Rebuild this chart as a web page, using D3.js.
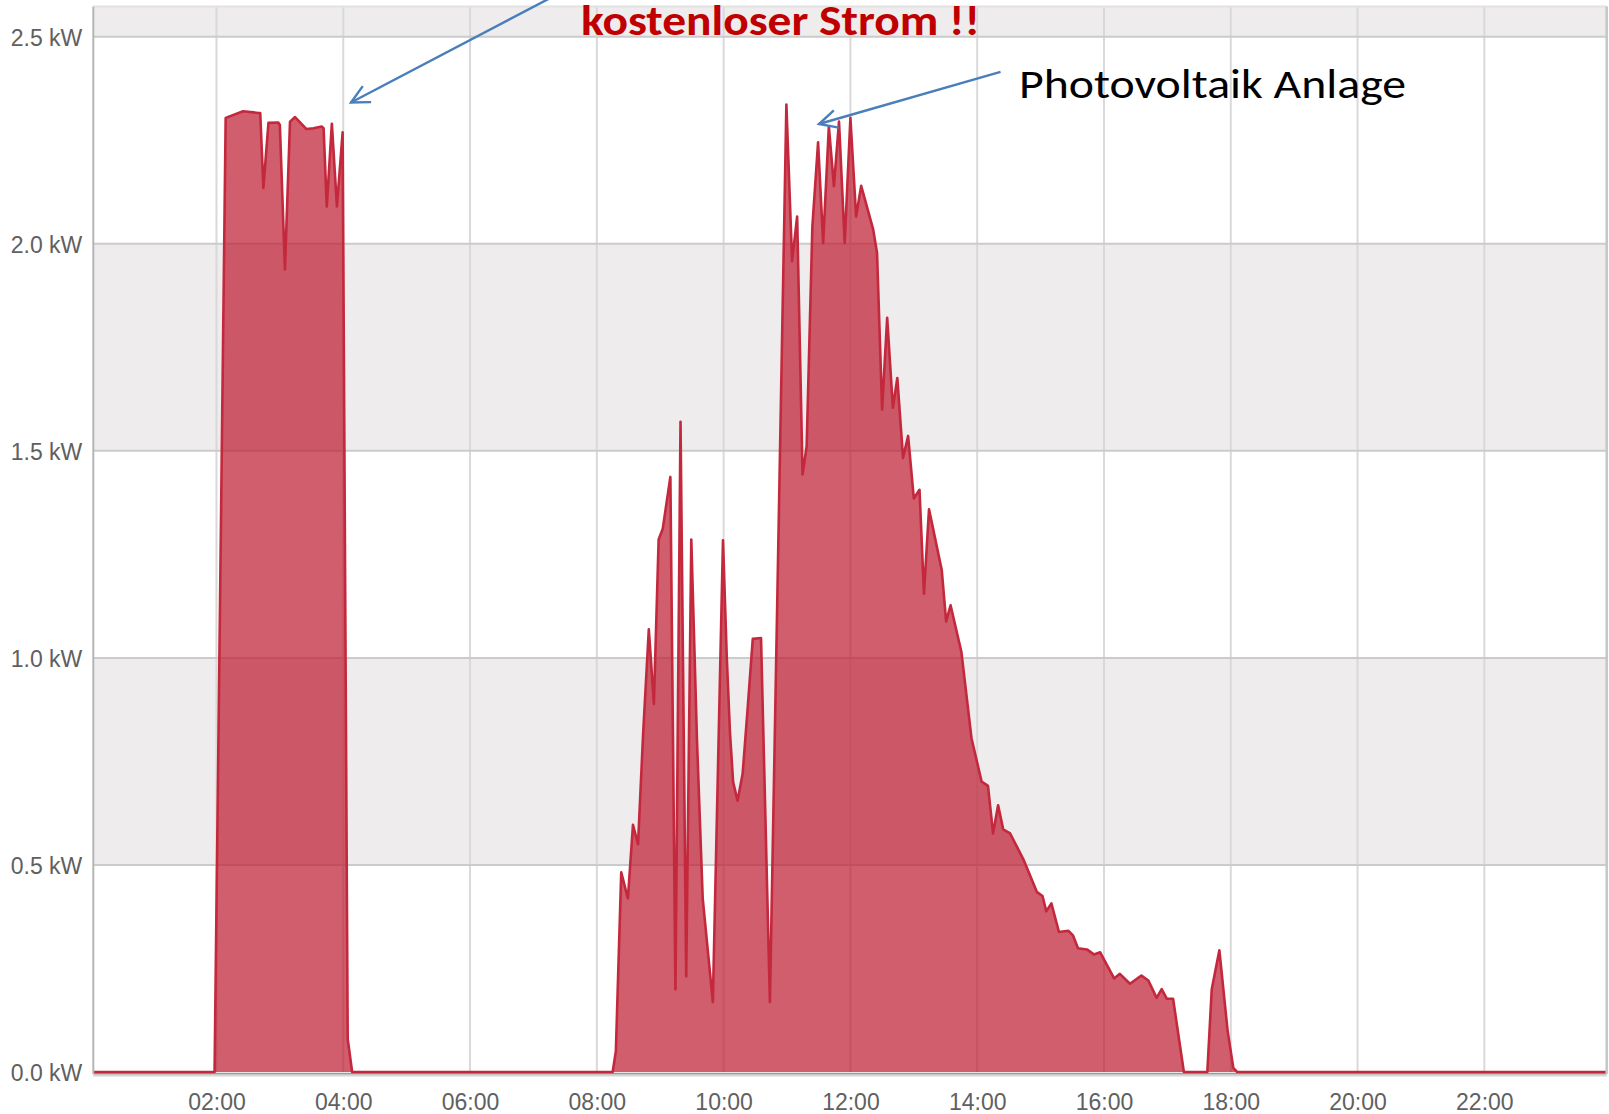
<!DOCTYPE html>
<html><head><meta charset="utf-8">
<script src="https://cdn.jsdelivr.net/npm/d3@7"></script>
<style>html,body{margin:0;padding:0;background:#fff;overflow:hidden}</style>
</head><body>
<svg id="chart" width="1609" height="1114"></svg>
<script>
// ---- data (time in hours of day, power in kW) ----
const timesH = [
  0.057, 1.97, 2.145, 2.42, 2.66, 2.69, 2.74, 2.82, 2.975, 3.00, 3.08, 3.16, 3.24, 3.42, 3.53, 3.66, 3.69, 3.74, 3.82, 3.90, 3.99, 4.07, 4.14,
  8.25, 8.30, 8.385, 8.49, 8.57, 8.65, 8.73, 8.82, 8.90, 8.975, 9.04, 9.16, 9.24, 9.32, 9.41, 9.49, 9.58, 9.67, 9.83, 9.99, 10.05, 10.10, 10.15, 10.22, 10.30, 10.38, 10.46, 10.59, 10.73,
  10.99, 11.08, 11.16, 11.245, 11.31, 11.40, 11.49, 11.57, 11.66, 11.74, 11.82, 11.91, 12.00, 12.09, 12.17, 12.36, 12.42, 12.50, 12.58, 12.67, 12.74, 12.83, 12.91,
  13.00, 13.09, 13.16, 13.24, 13.44, 13.51, 13.58, 13.75, 13.91, 14.07, 14.17, 14.25, 14.33, 14.41, 14.52, 14.73, 14.94, 15.03, 15.09, 15.17, 15.29, 15.44, 15.51,
  15.59, 15.73, 15.84, 15.94, 16.16, 16.25, 16.41, 16.59, 16.70, 16.83, 16.91, 16.99, 17.09, 17.26,
  17.63, 17.70, 17.82, 17.95, 18.04, 18.10, 23.93
];
const powerKW = [
  0, 0, 2.304, 2.320, 2.316, 2.316, 2.135, 2.292, 2.293, 2.287, 1.938, 2.295, 2.306, 2.277, 2.279, 2.283, 2.279, 2.090, 2.290, 2.090, 2.269, 0.08, 0,
  0, 0.05, 0.482, 0.419, 0.597, 0.550, 0.816, 1.069, 0.889, 1.286, 1.312, 1.437, 0.200, 1.570, 0.231, 1.286, 0.800, 0.419, 0.169, 1.284, 1.000, 0.820, 0.700, 0.655, 0.720, 0.880, 1.046, 1.048, 0.169,
  2.336, 1.958, 2.066, 1.443, 1.511, 2.042, 2.245, 2.002, 2.283, 2.139, 2.295, 2.002, 2.304, 2.066, 2.140, 2.034, 1.978, 1.600, 1.821, 1.604, 1.676, 1.483, 1.536,
  1.385, 1.406, 1.155, 1.359, 1.213, 1.088, 1.127, 1.015, 0.806, 0.701, 0.691, 0.576, 0.644, 0.586, 0.576, 0.513, 0.435, 0.425, 0.388, 0.407, 0.338, 0.341, 0.330,
  0.299, 0.296, 0.284, 0.289, 0.226, 0.237, 0.213, 0.233, 0.221, 0.179, 0.200, 0.177, 0.177, 0,
  0, 0.20, 0.294, 0.10, 0.01, 0, 0
];
const yTickValues = [0, 0.5, 1.0, 1.5, 2.0, 2.5];
const yTickLabels = ["0.0 kW", "0.5 kW", "1.0 kW", "1.5 kW", "2.0 kW", "2.5 kW"];
const xTickHours = [2, 4, 6, 8, 10, 12, 14, 16, 18, 20, 22];
const xTickLabels = ["02:00", "04:00", "06:00", "08:00", "10:00", "12:00", "14:00", "16:00", "18:00", "20:00", "22:00"];
const greyBands = [[0.5, 1.0], [1.5, 2.0], [2.5, 2.573]];
const xDomain = [0.057, 23.93];
const yDomain = [0, 2.573];
const annotationTexts = ["kostenloser Strom !!", "Photovoltaik Anlage"];

// ---- layout ----
const svg = d3.select("#chart");
const L = 93.3, R = 1606.7, T = 6.5, B = 1072;
const x = d3.scaleLinear().domain(xDomain).range([L, R]);
const y = d3.scaleLinear().domain(yDomain).range([B, T]);
const data = timesH.map((t, i) => ({t, v: powerKW[i]}));

// bands
svg.append("g").selectAll("rect").data(greyBands).join("rect")
  .attr("x", L).attr("width", R - L)
  .attr("y", d => y(d[1])).attr("height", d => y(d[0]) - y(d[1]))
  .attr("fill", "#eeeced");

// vertical grid
svg.append("g").selectAll("line").data(xTickHours).join("line")
  .attr("x1", d => x(d)).attr("x2", d => x(d)).attr("y1", T).attr("y2", B)
  .attr("stroke", "#d9d9d9").attr("stroke-width", 2);

// horizontal grid
svg.append("g").selectAll("line").data(yTickValues.slice(1)).join("line")
  .attr("x1", L).attr("x2", R).attr("y1", d => y(d)).attr("y2", d => y(d))
  .attr("stroke", "#cbcbcb").attr("stroke-width", 2);

// top border
svg.append("line").attr("x1", L).attr("x2", R).attr("y1", T).attr("y2", T)
  .attr("stroke", "#e2e2e2").attr("stroke-width", 2);

// area + line
const area = d3.area().x(d => x(d.t)).y0(y(0)).y1(d => y(d.v));
const line = d3.line().x(d => x(d.t)).y(d => y(d.v));

// axis shadow
svg.append("line").attr("x1", L).attr("x2", R).attr("y1", B + 3).attr("y2", B + 3)
  .attr("stroke", "#d6d6d6").attr("stroke-width", 3);
svg.append("line").attr("x1", L).attr("x2", R).attr("y1", B + 1.5).attr("y2", B + 1.5)
  .attr("stroke", "#9a9a9a").attr("stroke-width", 1.5);

svg.append("path").datum(data).attr("d", area)
  .attr("fill", "rgba(190,25,45,0.7)");
svg.append("path").datum(data).attr("d", line)
  .attr("fill", "none").attr("stroke", "#c4283d").attr("stroke-width", 2.6)
  .attr("stroke-linejoin", "round");

// left & right borders
svg.append("line").attr("x1", L).attr("x2", L).attr("y1", T).attr("y2", B + 2)
  .attr("stroke", "#b5b5b5").attr("stroke-width", 2);
svg.append("line").attr("x1", R).attr("x2", R).attr("y1", T).attr("y2", B + 2)
  .attr("stroke", "#c6c6c6").attr("stroke-width", 2.5);

// y axis labels
const yAxis = d3.axisLeft(y).tickValues(yTickValues)
  .tickFormat((d, i) => yTickLabels[i]).tickSize(0).tickPadding(11);
const gy = svg.append("g").attr("transform", `translate(${L},0)`).call(yAxis);
gy.select(".domain").remove();
gy.selectAll("text").attr("font-family", "'Liberation Sans', Arial, sans-serif")
  .attr("font-size", 23).attr("fill", "#606060").attr("dy", "0.36em");

// x axis labels
const xAxis = d3.axisBottom(x).tickValues(xTickHours)
  .tickFormat((d, i) => xTickLabels[i]).tickSize(0).tickPadding(0);
const gx = svg.append("g").attr("transform", `translate(0,${B})`).call(xAxis);
gx.select(".domain").remove();
gx.selectAll("text").attr("font-family", "'Liberation Sans', Arial, sans-serif")
  .attr("font-size", 23).attr("fill", "#606060").attr("dy", null).attr("y", 38);

// annotations
const defs = svg.append("defs");
defs.append("marker").attr("id", "arr").attr("viewBox", "0 0 24 24")
  .attr("refX", 21).attr("refY", 12).attr("markerUnits", "userSpaceOnUse")
  .attr("markerWidth", 24).attr("markerHeight", 24).attr("orient", "auto")
  .append("path").attr("d", "M3,3 L21,12 L3,21").attr("fill", "none")
  .attr("stroke", "#4a7ebb").attr("stroke-width", 2.4);

svg.append("line").attr("x1", 556).attr("y1", -5).attr("x2", 351).attr("y2", 102.5)
  .attr("stroke", "#4a7ebb").attr("stroke-width", 2.4).attr("marker-end", "url(#arr)");
svg.append("line").attr("x1", 1000.5).attr("y1", 71.8).attr("x2", 819).attr("y2", 124)
  .attr("stroke", "#4a7ebb").attr("stroke-width", 2.4).attr("marker-end", "url(#arr)");

svg.append("text").attr("x", 581).attr("y", 35)
  .attr("font-family", "Carlito, Lato, 'Open Sans', sans-serif").attr("font-weight", "bold")
  .attr("font-size", 42).attr("fill", "#c00000")
  .attr("textLength", 399).attr("lengthAdjust", "spacingAndGlyphs")
  .text(annotationTexts[0]);
svg.append("text").attr("x", 1019).attr("y", 98)
  .attr("font-family", "Carlito, Lato, 'Open Sans', sans-serif")
  .attr("font-size", 42).attr("fill", "#000")
  .attr("textLength", 387).attr("lengthAdjust", "spacingAndGlyphs")
  .text(annotationTexts[1]);
</script>
</body></html>
